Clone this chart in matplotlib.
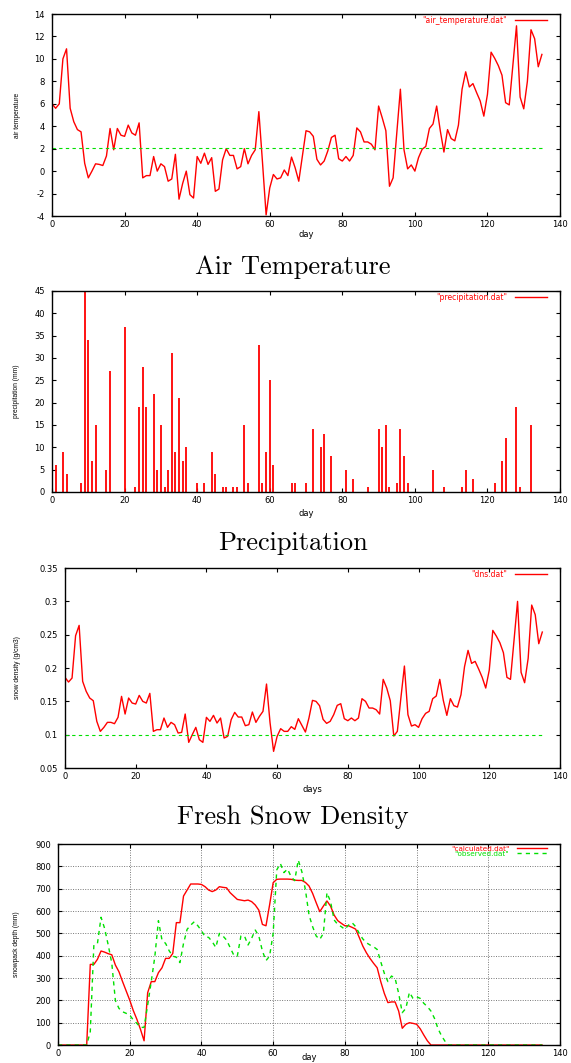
"""
Four-panel summary of the snowpack run: air temperature, precipitation,
fresh snow density and simulated vs observed snow depth.
"""

import numpy as np
import matplotlib.pyplot as plt
from matplotlib.ticker import MultipleLocator, FormatStrFormatter

plt.rcParams["font.family"] = "DejaVu Sans"
plt.rcParams["axes.unicode_minus"] = False

days = np.arange(136)

air_temp = [
    6.0, 5.6, 6.0, 10.0, 10.9, 5.6, 4.4, 3.7, 3.5, 0.7,
    -0.6, 0.0, 0.65, 0.6, 0.5, 1.35, 3.8, 1.9, 3.8, 3.2,
    3.1, 4.1, 3.4, 3.2, 4.3, -0.6, -0.4, -0.4, 1.3, 0.0,
    0.65, 0.4, -0.9, -0.7, 1.5, -2.5, -1.1, 0.0, -2.1, -2.4,
    1.3, 0.7, 1.6, 0.6, 1.2, -1.8, -1.6, 1.0, 2.0, 1.4,
    1.4, 0.2, 0.4, 2.0, 0.65, 1.4, 1.9, 5.3, 0.8, -3.9,
    -1.5, -0.3, -0.7, -0.6, 0.1, -0.4, 1.25, 0.3, -0.9, 1.35,
    3.6, 3.5, 3.1, 1.05, 0.55, 0.9, 1.8, 3.0, 3.2, 1.1,
    0.9, 1.3, 0.9, 1.4, 3.85, 3.5, 2.6, 2.6, 2.4, 1.9,
    5.8, 4.75, 3.6, -1.35, -0.6, 3.4, 7.3, 1.9, 0.2, 0.55,
    0.0, 1.2, 1.95, 2.2, 3.8, 4.2, 5.8, 3.6, 1.7, 3.7,
    2.9, 2.7, 4.1, 7.3, 8.85, 7.5, 7.8, 7.0, 6.25, 4.9,
    6.85, 10.6, 10.05, 9.4, 8.55, 6.1, 5.9, 9.4, 12.95, 6.6,
    5.55, 8.0, 12.6, 11.8, 9.3, 10.4,
]
temp_ref = 2.05

precip_days = [
    1, 3, 4, 8, 9, 10, 11, 12, 15, 16, 20, 23, 24, 25, 26, 28, 29, 30,
    31, 32, 33, 34, 35, 36, 37, 40, 42, 44, 45, 47, 48, 50, 51, 53, 54,
    57, 58, 59, 60, 61, 66, 67, 70, 72, 74, 75, 77, 81, 83, 87, 90, 91,
    92, 93, 95, 96, 97, 98, 105, 108, 113, 114, 116, 122, 124, 125, 128,
    129, 132,
]
precip_mm = [
    6, 9, 4, 2, 45, 34, 7, 15, 5, 27, 37, 1, 19, 28, 19, 22, 5, 15,
    1, 5, 31, 9, 21, 7, 10, 2, 2, 9, 4, 1, 1, 1, 1, 15, 2,
    33, 2, 9, 25, 6, 2, 2, 2, 14, 10, 13, 8, 5, 3, 1, 14, 10,
    15, 1, 2, 14, 8, 2, 5, 1, 1, 5, 3, 2, 7, 12, 19,
    1, 15,
]

snow_density = [
    0.186, 0.179, 0.185, 0.2485, 0.264, 0.18, 0.165, 0.155, 0.151, 0.12,
    0.105, 0.111, 0.1185, 0.1185, 0.1165, 0.126, 0.1575, 0.131, 0.155, 0.1475,
    0.146, 0.159, 0.15, 0.1475, 0.162, 0.105, 0.1075, 0.1075, 0.125, 0.111,
    0.1185, 0.115, 0.1025, 0.1035, 0.131, 0.0885, 0.1, 0.111, 0.0925, 0.0885,
    0.126, 0.12, 0.129, 0.1175, 0.125, 0.095, 0.0975, 0.1225, 0.1335, 0.1265,
    0.1265, 0.1135, 0.115, 0.134, 0.1185, 0.1275, 0.135, 0.176, 0.118, 0.075,
    0.0975, 0.109, 0.105, 0.105, 0.112, 0.108, 0.124, 0.114, 0.104, 0.125,
    0.1515, 0.15, 0.1435, 0.123, 0.117, 0.12, 0.13, 0.144, 0.1465, 0.124,
    0.121, 0.125, 0.121, 0.125, 0.154, 0.15, 0.14, 0.14, 0.1375, 0.131,
    0.183, 0.17, 0.151, 0.098, 0.105, 0.155, 0.203, 0.13, 0.113, 0.115,
    0.111, 0.124, 0.132, 0.135, 0.154, 0.158, 0.183, 0.1515, 0.129, 0.154,
    0.1435, 0.1415, 0.16, 0.202, 0.2265, 0.207, 0.21, 0.1985, 0.186, 0.17,
    0.197, 0.2565, 0.248, 0.238, 0.223, 0.186, 0.183, 0.2415, 0.3, 0.1935,
    0.178, 0.2145, 0.2945, 0.28, 0.2365, 0.254,
]
density_ref = 0.1

depth_calc = [
    0, 0, 0, 0, 0, 0, 0, 0, 0, 361,
    361, 384, 421, 416, 409, 404, 358, 328, 284, 242,
    201, 154, 115, 70, 19, 234, 284, 284, 324, 346,
    388, 388, 410, 548, 548, 667, 694, 721, 721, 721,
    719, 709, 694, 687, 694, 709, 706, 704, 682, 667,
    652, 649, 646, 649, 642, 627, 604, 540, 534, 627,
    727, 742, 743, 743, 743, 742, 738, 737, 737, 728,
    712, 679, 637, 597, 622, 645, 622, 582, 557, 545,
    534, 534, 527, 519, 482, 443, 413, 388, 366, 346,
    284, 231, 190, 193, 193, 152, 75, 93, 100, 97,
    93, 73, 45, 19, 0, 0, 0, 0, 0, 0,
    0, 0, 0, 0, 0, 0, 0, 0, 0, 0,
    0, 0, 0, 0, 0, 0, 0, 0, 0, 0,
    0, 0, 0, 0, 0, 0,
]
depth_obs = [
    0, 0, 0, 0, 0, 0, 0, 0, 0, 60,
    448, 455, 572, 522, 448, 366, 199, 164, 149, 142,
    134, 112, 97, 79, 79, 179, 284, 396, 557, 470,
    455, 422, 398, 393, 369, 455, 518, 537, 552, 534,
    512, 485, 482, 463, 437, 500, 488, 470, 437, 403,
    398, 488, 488, 448, 478, 515, 488, 421, 378, 398,
    500, 784, 813, 772, 788, 754, 736, 828, 776, 694,
    582, 530, 488, 473, 500, 682, 642, 560, 540, 530,
    518, 537, 548, 530, 500, 475, 458, 448, 440, 428,
    373, 321, 284, 309, 299, 231, 145, 164, 236, 209,
    216, 209, 187, 172, 152, 119, 72, 40, 15, 0,
    0, 0, 0, 0, 0, 0, 0, 0, 0, 0,
    0, 0, 0, 0, 0, 0, 0, 0, 0, 0,
    0, 0, 0, 0, 0, 0,
]

RED = "#ff0000"
GREEN = "#00e000"
DASH = (0, (3, 3))


def style_axes(ax, ylim, ystep, ylabel, xlabel, ylabel_x, xlabel_y, yfmt=None):
    ax.set_xlim(0, 140)
    ax.set_ylim(*ylim)
    ax.xaxis.set_major_locator(MultipleLocator(20))
    ax.yaxis.set_major_locator(MultipleLocator(ystep))
    if yfmt is not None:
        ax.yaxis.set_major_formatter(yfmt)
    ax.tick_params(direction="in", top=True, right=True, length=3, width=0.8,
                   labelsize=6, colors="black")
    ax.tick_params(axis="y", pad=5)
    ax.tick_params(axis="x", pad=3)
    for sp in ax.spines.values():
        sp.set_linewidth(1.0)
    ax.set_ylabel(ylabel, family="Liberation Sans", fontsize=4.8)
    ax.yaxis.set_label_coords(ylabel_x, 0.5)
    ax.set_xlabel(xlabel, fontsize=6)
    ax.xaxis.set_label_coords(0.5, xlabel_y)


def add_key(ax, handles, labels, colors, size=5.5, spacing=-0.25):
    leg = ax.legend(handles, labels, loc="upper right",
                    bbox_to_anchor=(0.974, 0.992), frameon=False,
                    markerfirst=False, fontsize=size, handlelength=4.2,
                    handletextpad=1.0, borderpad=0, borderaxespad=0,
                    labelspacing=spacing)
    for txt, c in zip(leg.get_texts(), colors):
        txt.set_color(c)


fig = plt.figure(figsize=(5.71, 10.63), dpi=100)

# air temperature
ax1 = fig.add_axes([0.0911, 0.7968, 0.8897, 0.1900])
h1, = ax1.plot(days, air_temp, color=RED, lw=1.0)
ax1.hlines(temp_ref, days[0], days[-1], colors=GREEN, lw=0.8, linestyles=DASH)
style_axes(ax1, (-4, 14), 2, "air temperature", "day", -0.061, -0.07)
add_key(ax1, [h1], ['"air_temperature.dat"'], [RED])

# precipitation impulses
ax2 = fig.add_axes([0.0911, 0.5372, 0.8897, 0.1891])
ax2.vlines(precip_days, 0, precip_mm, colors=RED, lw=1.3)
h2, = ax2.plot([], [], color=RED, lw=1.0)
style_axes(ax2, (0, 45), 5, "precipitation (mm)", "day", -0.063, -0.085)
add_key(ax2, [h2], ['"precipitation.dat"'], [RED])

# fresh snow density
ax3 = fig.add_axes([0.1138, 0.2775, 0.8669, 0.1881])
h3, = ax3.plot(days, snow_density, color=RED, lw=1.0)
ax3.hlines(density_ref, days[0], days[-1], colors=GREEN, lw=0.8, linestyles=DASH)
style_axes(ax3, (0.05, 0.35), 0.05, "snow density (g/cm3)", "days", -0.089, -0.085,
           yfmt=FormatStrFormatter("%g"))
add_key(ax3, [h3], ['"dns.dat"'], [RED])

# snowpack depth, model vs observation
ax4 = fig.add_axes([0.1016, 0.0169, 0.8792, 0.1891])
ax4.grid(True, color="#777777", lw=0.7, ls=(0, (1, 1.5)))
ax4.set_axisbelow(True)
h4a, = ax4.plot(days, depth_calc, color=RED, lw=1.0)
h4b, = ax4.plot(days, depth_obs, color=GREEN, lw=1.0, ls=DASH)
style_axes(ax4, (0, 900), 100, "snowpack depth (mm)", "day", -0.076, -0.042)
add_key(ax4, [h4a, h4b], ['"calculated.dat"', '"observed.dat"'], [RED, GREEN],
        size=5.2, spacing=-0.1)

# panel captions
for y, caption in [(267, "Air Temperature"), (543, "Precipitation"),
                   (817, "Fresh Snow Density")]:
    fig.text(293 / 571, 1 - y / 1063, caption, family="cmr10", fontsize=19,
             ha="center", va="center")

fig.savefig("out.png", dpi=100)
plt.close(fig)
